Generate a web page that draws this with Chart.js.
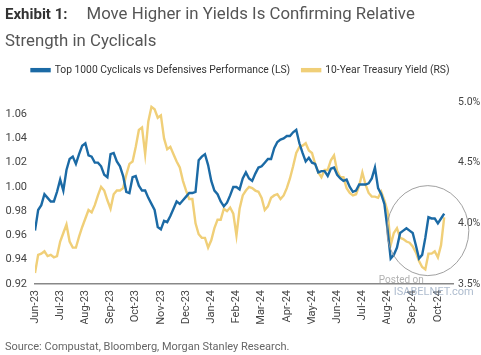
<!DOCTYPE html>
<html>
<head>
<meta charset="utf-8">
<script src="https://cdn.jsdelivr.net/npm/chart.js@4.4.1/dist/chart.umd.min.js"></script>
<style>
  html, body { margin: 0; padding: 0; background: #ffffff; }
  body { width: 481px; height: 355px; position: relative; overflow: hidden; font-family: Roboto, "Open Sans", sans-serif; }
  #title { position: absolute; left: 5px; top: 0px; width: 476px; font-size: 16.8px; line-height: 26px; color: #555; white-space: nowrap; }
  #title b { color: #333; font-weight: 700; font-size: 15px; margin-right: 19px; }
  #source { position: absolute; left: 5px; top: 340px; font-size: 11px; color: #666; }
  #wrap { position: absolute; left: 0; top: 0; width: 481px; height: 355px; }
</style>
</head>
<body>
<div id="wrap"><canvas id="c" width="481" height="355"></canvas></div>
<div id="title"><b>Exhibit 1:</b>Move Higher in Yields Is Confirming Relative<br>Strength in Cyclicals</div>
<div id="source">Source: Compustat, Bloomberg, Morgan Stanley Research.</div>
<script>
// Month tick labels (one per month, starting Jun-23)
const months = ["Jun-23","Jul-23","Aug-23","Sep-23","Oct-23","Nov-23","Dec-23","Jan-24","Feb-24","Mar-24","Apr-24","May-24","Jun-24","Jul-24","Aug-24","Sep-24","Oct-24"];
// Observations are sampled 8 times per month
const SAMPLES_PER_MONTH = 8;

// Top 1000 Cyclicals vs Defensives Performance (left scale)
const cyclicals = [
  0.964,0.981,0.985,0.994,0.991,0.988,0.988,0.996,1.006,0.997,
  1.014,1.023,1.025,1.019,1.027,1.034,1.036,1.026,1.025,1.020,
  1.020,1.017,1.010,1.008,1.027,1.028,1.021,1.017,1.009,0.996,
  0.995,1.008,1.009,1.001,0.997,0.997,0.991,0.986,0.981,0.967,
  0.965,0.972,0.971,0.976,0.982,0.988,0.986,0.989,0.992,0.995,
  0.995,0.996,1.022,1.025,1.027,1.018,1.005,0.997,0.994,0.988,
  0.984,0.987,0.993,1.000,1.000,0.998,1.007,1.012,1.007,1.005,
  1.011,1.016,1.017,1.020,1.023,1.023,1.032,1.037,1.039,1.040,
  1.042,1.042,1.045,1.047,1.036,1.028,1.021,1.024,1.020,1.019,
  1.012,1.013,1.013,1.009,1.015,1.016,1.010,1.007,1.005,1.006,
  1.000,0.996,0.997,1.002,1.002,1.002,1.003,1.007,1.016,0.999,
  0.994,0.986,0.965,0.941,0.944,0.950,0.962,0.964,0.966,0.964,
  0.962,0.952,0.941,0.944,0.958,0.975,0.974,0.974,0.970,0.974,
  0.978
];

// 10-Year Treasury Yield, % (right scale)
const treasury10y = [
  3.59,3.74,3.75,3.77,3.73,3.74,3.72,3.73,3.85,3.92,
  3.99,3.85,3.80,3.80,3.89,3.97,4.04,4.11,4.09,4.15,
  4.23,4.30,4.27,4.19,4.12,4.24,4.27,4.27,4.29,4.40,
  4.49,4.51,4.63,4.77,4.79,4.57,4.84,4.96,4.94,4.87,
  4.89,4.70,4.61,4.63,4.57,4.51,4.46,4.35,4.27,4.20,
  4.20,4.00,3.91,3.88,3.88,3.80,3.86,3.96,4.03,4.03,
  4.12,4.10,4.13,4.08,3.90,4.12,4.23,4.27,4.30,4.29,
  4.27,4.26,4.21,4.11,4.14,4.21,4.23,4.24,4.20,4.23,
  4.29,4.37,4.47,4.58,4.63,4.64,4.66,4.60,4.58,4.49,
  4.42,4.38,4.44,4.44,4.52,4.56,4.43,4.38,4.38,4.29,
  4.25,4.23,4.24,4.31,4.42,4.32,4.25,4.22,4.22,4.21,
  4.26,4.19,4.10,3.82,3.92,3.96,3.88,3.87,3.85,3.84,
  3.81,3.76,3.69,3.64,3.62,3.75,3.75,3.77,3.72,3.82,
  4.05
];

const toPoints = arr => arr.map((v, i) => ({ x: i / SAMPLES_PER_MONTH, y: v }));

const BLUE = "#1b6aa5";
const GOLD = "#f0cf78";
const PAD_TOP = 53;
const CHART_TOP = 102;

const circlePlugin = {
  id: "circleNote",
  afterDatasetsDraw(chart) {
    const { ctx, scales } = chart;
    const cx = scales.x.getPixelForValue(15.6);
    const cy = scales.yR.getPixelForValue(3.94);
    ctx.save();
    ctx.beginPath();
    ctx.ellipse(cx, cy, 41, 45, 0, 0, Math.PI * 2);
    ctx.strokeStyle = "rgba(150,150,150,0.9)";
    ctx.lineWidth = 1;
    ctx.stroke();
    ctx.fillStyle = "rgba(150,150,150,0.75)";
    ctx.font = "10px Roboto, sans-serif";
    ctx.textAlign = "left";
    ctx.fillText("Posted on", cx - 49, cy + 50);
    ctx.fillStyle = "rgba(140,160,185,0.7)";
    ctx.font = "11px Roboto, sans-serif";
    ctx.fillText("ISABELNET.com", cx - 34, cy + 62);
    ctx.restore();
  }
};

const legendSpacer = {
  id: "legendSpacer",
  beforeInit(chart) {
    const origFit = chart.legend.fit;
    chart.legend.fit = function () {
      origFit.bind(this)();
      this.height = CHART_TOP - PAD_TOP;
    };
  }
};

function draw() {
  new Chart(document.getElementById("c"), {
    type: "line",
    data: {
      datasets: [
        {
          label: "Top 1000 Cyclicals vs Defensives Performance (LS)",
          data: toPoints(cyclicals),
          yAxisID: "yL",
          borderColor: BLUE,
          backgroundColor: BLUE,
          borderWidth: 2.4,
          pointRadius: 0,
          tension: 0
        },
        {
          label: "10-Year Treasury Yield (RS)",
          data: toPoints(treasury10y),
          yAxisID: "yR",
          borderColor: GOLD,
          backgroundColor: GOLD,
          borderWidth: 2.4,
          pointRadius: 0,
          tension: 0
        }
      ]
    },
    options: {
      responsive: false,
      animation: false,
      events: [],
      layout: { padding: { top: PAD_TOP, left: 0, right: 0, bottom: 31 } },
      plugins: {
        legend: {
          display: true,
          position: "top",
          labels: {
            boxWidth: 18,
            boxHeight: 2,
            padding: 12,
            color: "#333",
            font: { family: "Roboto", size: 10.3 }
          }
        },
        tooltip: { enabled: false }
      },
      scales: {
        x: {
          type: "linear",
          min: 0,
          max: 16.6,
          grid: { display: false, drawTicks: false },
          border: { display: true, color: "#888", width: 1.5 },
          afterFit: s => { s.height = 40; },
          ticks: {
            stepSize: 1,
            includeBounds: false,
            autoSkip: false,
            maxRotation: 90,
            minRotation: 90,
            padding: 6,
            color: "#444",
            font: { family: "Roboto", size: 11 },
            callback: v => months[v] !== undefined && Number.isInteger(v) ? months[v] : ""
          }
        },
        yL: {
          type: "linear",
          position: "left",
          min: 0.92,
          max: 1.07,
          grid: { display: false, drawTicks: false },
          border: { display: false },
          afterFit: s => { s.width = 35; },
          ticks: {
            stepSize: 0.02,
            includeBounds: false,
            padding: 8,
            color: "#444",
            font: { family: "Roboto", size: 11 },
            callback: v => v.toFixed(2)
          }
        },
        yR: {
          type: "linear",
          position: "right",
          min: 3.5,
          max: 5.0,
          grid: { display: false, drawTicks: false },
          border: { display: false },
          afterFit: s => { s.width = 28; },
          ticks: {
            stepSize: 0.5,
            padding: 5,
            color: "#444",
            font: { family: "Roboto", size: 10.5 },
            callback: v => v.toFixed(1) + "%"
          }
        }
      }
    },
    plugins: [circlePlugin, legendSpacer]
  });
}

Promise.all([
  document.fonts.load("11px Roboto"),
  document.fonts.load("bold 16px Roboto")
]).then(draw, draw);
</script>
</body>
</html>
